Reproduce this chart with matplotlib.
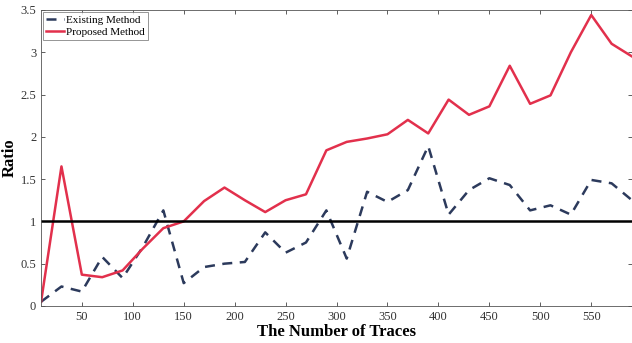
import numpy as np
import matplotlib.pyplot as plt

plt.rcParams['font.family'] = ['Liberation Serif', 'DejaVu Serif']

# number of traces sampled every 20
traces = np.arange(10, 591, 20)

existing = [0.05, 0.23, 0.17, 0.58, 0.33, 0.70, 1.13, 0.27, 0.46, 0.50,
            0.52, 0.87, 0.63, 0.75, 1.13, 0.56, 1.35, 1.23, 1.37, 1.89,
            1.08, 1.37, 1.51, 1.43, 1.13, 1.19, 1.08, 1.49, 1.45, 1.25]
proposed = [0.05, 1.65, 0.37, 0.34, 0.42, 0.68, 0.92, 1.00, 1.24, 1.40,
            1.25, 1.11, 1.25, 1.32, 1.84, 1.94, 1.98, 2.03, 2.20, 2.04,
            2.44, 2.26, 2.36, 2.84, 2.39, 2.49, 3.00, 3.44, 3.10, 2.95]
reference_level = 1.0

xticks = [50, 100, 150, 200, 250, 300, 350, 400, 450, 500, 550]
yticks = [0, 0.5, 1, 1.5, 2, 2.5, 3, 3.5]
ytick_labels = ['0', '0.5', '1', '1.5', '2', '2.5', '3', '3.5']

fig = plt.figure(figsize=(6.32, 3.43), dpi=100)
ax = fig.add_axes([0.065, 0.108, 0.935, 0.863])

ax.plot(traces, existing, linestyle=(0, (4, 3)), color='#2c3a5c', lw=1.8,
        label='Existing Method')
ax.plot(traces, proposed, color='#e2304c', lw=1.8, label='Proposed Method')
ax.axhline(reference_level, color='k', lw=1.8)

ax.set_xlim(10, 590)
ax.set_ylim(0, 3.5)
ax.set_xticks(xticks)
ax.set_yticks(yticks)
ax.set_yticklabels(ytick_labels)
ax.tick_params(direction='in', length=3, width=0.6, labelsize=9,
               top=True, right=True, colors='#444444', labelcolor='#333333')
for s in ax.spines.values():
    s.set_linewidth(0.6)
    s.set_color('#555555')

ax.set_xlabel('The Number of Traces', fontsize=12, fontweight='bold', labelpad=1)
ax.set_ylabel('Ratio', fontsize=12, fontweight='bold', labelpad=2)

leg = ax.legend(loc='upper left', fontsize=8, frameon=True, fancybox=False,
                borderpad=0.3, handlelength=1.6, handletextpad=0.2,
                labelspacing=0.2, borderaxespad=0.15)
leg.get_frame().set_edgecolor('#666666')
leg.get_frame().set_linewidth(0.6)

fig.savefig('out.png', dpi=100)
